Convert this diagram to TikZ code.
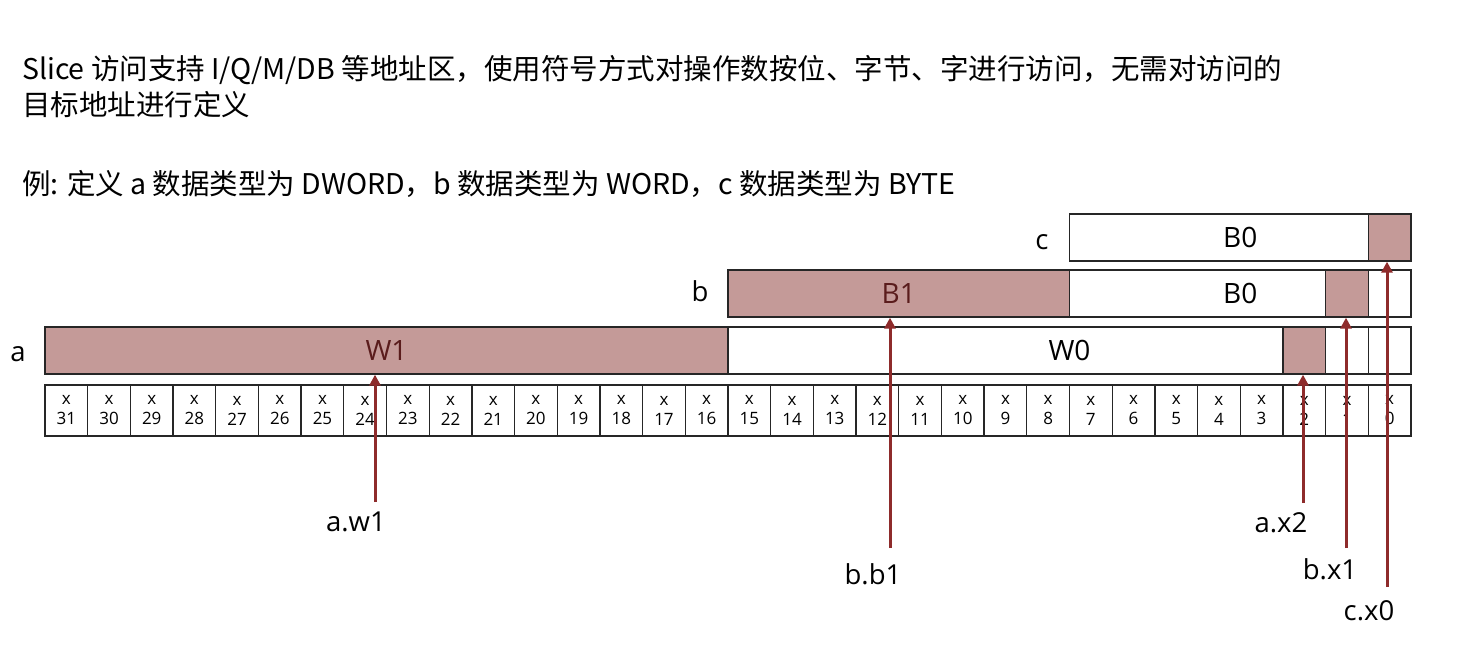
\documentclass[tikz,border=0pt]{standalone}
\usepackage{fontspec}
\setmainfont{Noto Sans CJK SC}
\newfontfamily\labfont{Open Sans}
\usetikzlibrary{arrows.meta}
\definecolor{hl}{HTML}{C49A98}
\definecolor{arr}{HTML}{8E2B2B}
\definecolor{dtext}{HTML}{5A1C1C}
\tikzset{
  box/.style={draw=black!85, line width=1.3pt, inner sep=0pt, minimum height=47pt, font=\labfont\fontsize{28}{30}\selectfont},
  cellbox/.style={draw=black!85, line width=1.3pt, inner sep=0pt, minimum width=42.6875pt, minimum height=51pt, align=center, font=\labfont\fontsize{17}{20}\selectfont},
  hlbox/.style={box, fill=hl, text=dtext},
  plainbox/.style={box, fill=white},
  lbl/.style={inner sep=0pt, font=\labfont\fontsize{27.5}{30}\selectfont},
  ttl/.style={inner sep=0pt, anchor=base west, font=\fontsize{28.5}{32}\selectfont},
  ptr/.style={draw=arr, line width=3pt, -{Triangle[length=11pt,width=11pt]}}
}
\begin{document}
\begin{tikzpicture}[x=1pt,y=-1pt]
\useasboundingbox (0,0) rectangle (1476,650);
% title text
\node[ttl] (t1) at (22,80) {Slice 访问支持 I/Q/M/DB 等地址区，使用符号方式对操作数按位、字节、字进行访问，无需对访问的};
\node[ttl] (t2) at (22,116) {目标地址进行定义};
\node[ttl] (t3) at (22,195) {例: 定义 a 数据类型为 DWORD，b 数据类型为 WORD，c 数据类型为 BYTE};
% bit cells
\foreach \i in {0,...,31} {
  \node[cellbox] (bit\i) at ({1411 - (\i+0.5)*42.6875},410.5) {x\\\i};
}
% row a
\node[hlbox, minimum width=683pt] (W1) at (386.5,350.5) {W1};
\node[plainbox, minimum width=683pt] (W0) at (1069.5,350.5) {W0};
\node[hlbox, minimum width=42.6875pt] (ax2) at (1304.25,350.5) {};
\node[plainbox, minimum width=42.6875pt] (ax1) at (1346.94,350.5) {};
\node[plainbox, minimum width=42.6875pt] (ax0) at (1389.66,350.5) {};
% row b
\node[hlbox, minimum width=341.5pt] (B1) at (898.75,293.5) {B1};
\node[plainbox, minimum width=341.5pt] (B0b) at (1240.25,293.5) {B0};
\node[hlbox, minimum width=42.6875pt] (bx1) at (1346.94,293.5) {};
\node[plainbox, minimum width=42.6875pt] (bx0) at (1389.66,293.5) {};
% row c
\node[plainbox, minimum width=341.5pt] (B0c) at (1240.25,237.5) {B0};
\node[hlbox, minimum width=42.6875pt] (cx0) at (1389.66,237.5) {};
% row labels
\node[lbl] (la) at (18,354) {a};
\node[lbl] (lb) at (700,291) {b};
\node[lbl] (lc) at (1042,242) {c};
% pointer labels
\node[lbl] (aw1) at (356,522) {a.w1};
\node[lbl] (bb1) at (873,574) {b.b1};
\node[lbl] (ax2l) at (1281,523) {a.x2};
\node[lbl] (bx1l) at (1330,569) {b.x1};
\node[lbl] (cx0l) at (1369,611) {c.x0};
% pointer start coordinates
\coordinate (s1) at (375,502);
\coordinate (s2) at (890,548);
\coordinate (s3) at (1303,503);
\coordinate (s4) at (1346,548);
\coordinate (s5) at (1387,587);
\draw[ptr] (s1) -- (s1 |- W1.south);
\draw[ptr] (s2) -- (s2 |- B1.south);
\draw[ptr] (s3) -- (s3 |- ax2.south);
\draw[ptr] (s4) -- (s4 |- bx1.south);
\draw[ptr] (s5) -- (s5 |- cx0.south);
\end{tikzpicture}
\end{document}
